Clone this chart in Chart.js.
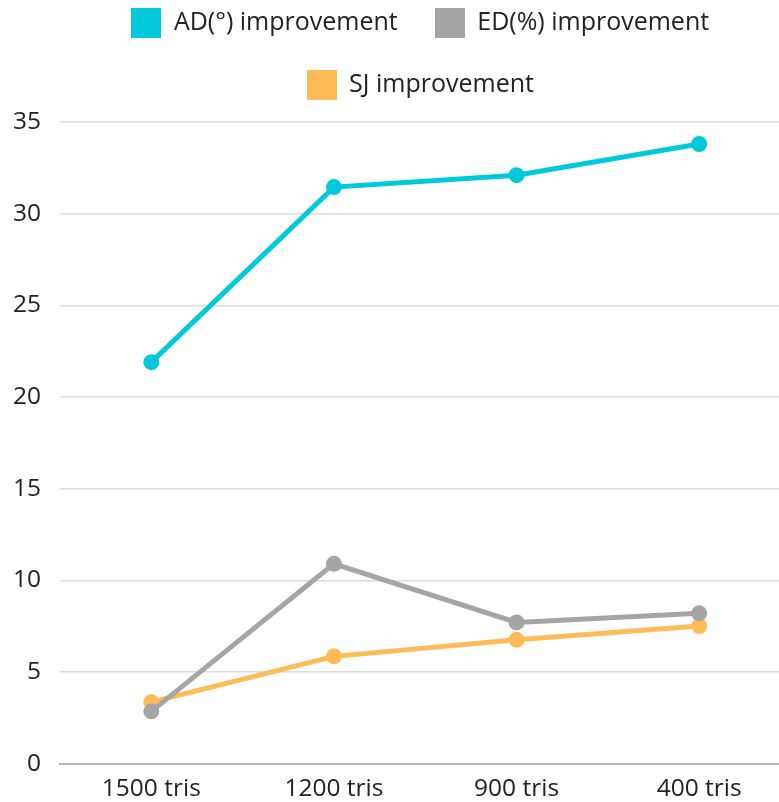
<!DOCTYPE html>
<html>
<head>
<meta charset="utf-8">
<script src="https://cdn.jsdelivr.net/npm/chart.js@4/dist/chart.umd.min.js"></script>
<style>
  html, body { margin: 0; padding: 0; background: #ffffff; overflow: hidden; }
  #chart { display: block; }
</style>
</head>
<body>
<canvas id="chart" width="801" height="802"></canvas>
<script>
// Mesh sizes along the x axis
const categories = ['1500 tris', '1200 tris', '900 tris', '400 tris'];

// Improvement per mesh size for each metric
const adImprovement = [21.9, 31.45, 32.1, 33.8];
const edImprovement = [2.85, 10.9, 7.7, 8.2];
const sjImprovement = [3.35, 5.85, 6.75, 7.5];

const seriesNames = ['AD(°) improvement', 'ED(%) improvement', 'SJ improvement'];
const seriesColors = ['#00c9dc', '#a5a5a5', '#ffbb55'];

const yTicks = [0, 5, 10, 15, 20, 25, 30, 35];

const FONT = "'Open Sans', 'Noto Sans', sans-serif";

// Square colour swatch used as the legend marker
function swatch(color) {
  const c = document.createElement('canvas');
  c.width = 30;
  c.height = 30;
  const g = c.getContext('2d');
  g.fillStyle = color;
  g.fillRect(0, 0, 30, 30);
  return c;
}

// Extra room beneath the legend, and a small leftward nudge of the legend
const legendTweaks = {
  id: 'legendTweaks',
  beforeInit(chart) {
    const legend = chart.legend;
    const origFit = legend.fit;
    legend.fit = function () {
      origFit.call(legend);
      this.height += 15;
    };
    const origDraw = legend.draw;
    legend.draw = function () {
      const ctx = chart.ctx;
      ctx.save();
      ctx.translate(-5, 0);
      origDraw.call(legend);
      ctx.restore();
    };
  }
};

const makeSet = (label, data, color) => ({
  label,
  data,
  borderColor: color,
  backgroundColor: color,
  borderWidth: 5,
  pointRadius: 5.5,
  pointHoverRadius: 5.5,
  pointBackgroundColor: color,
  pointBorderColor: color,
  tension: 0,
  fill: false
});

new Chart(document.getElementById('chart'), {
  type: 'line',
  data: {
    labels: categories,
    datasets: [
      makeSet(seriesNames[0], adImprovement, seriesColors[0]),
      makeSet(seriesNames[1], edImprovement, seriesColors[1]),
      makeSet(seriesNames[2], sjImprovement, seriesColors[2])
    ]
  },
  options: {
    responsive: false,
    maintainAspectRatio: false,
    animation: false,
    layout: { padding: { left: -6, right: 0, top: -27, bottom: -13 } },
    plugins: {
      legend: {
        position: 'top',
        fullSize: false,
        labels: {
          usePointStyle: true,
          pointStyleWidth: 30,
          boxHeight: 25,
          padding: 37,
          color: '#222222',
          font: { family: FONT, size: 25 },
          generateLabels(chart) {
            return chart.data.datasets.map((ds, i) => ({
              text: ds.label,
              fillStyle: ds.backgroundColor,
              strokeStyle: ds.borderColor,
              lineWidth: 0,
              hidden: !chart.isDatasetVisible(i),
              datasetIndex: i,
              pointStyle: swatch(ds.borderColor),
              fontColor: '#222222'
            }));
          }
        }
      },
      tooltip: { enabled: false }
    },
    scales: {
      x: {
        offset: true,
        grid: { display: false, drawTicks: false },
        border: { display: true, color: '#b3b3b3', width: 2 },
        ticks: {
          color: '#222222',
          padding: 11,
          font: { family: FONT, size: 24.5 }
        }
      },
      y: {
        min: yTicks[0],
        max: yTicks[yTicks.length - 1],
        afterBuildTicks(axis) {
          axis.ticks = yTicks.map(v => ({ value: v }));
        },
        grid: { color: '#dcdcdc', lineWidth: 1.5, drawTicks: false },
        border: { display: false },
        ticks: {
          color: '#222222',
          padding: 19,
          font: { family: FONT, size: 24.5 }
        }
      }
    }
  },
  plugins: [legendTweaks]
});
</script>
</body>
</html>
